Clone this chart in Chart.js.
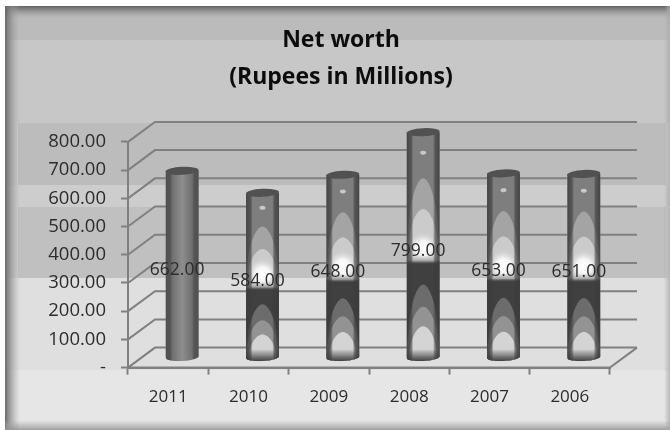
<!DOCTYPE html>
<html>
<head>
<meta charset="utf-8">
<title>Net worth</title>
<script src="https://cdn.jsdelivr.net/npm/chart.js@4"></script>
<style>
html, body { margin: 0; padding: 0; background: #fff; }
#wrap { width: 670px; height: 430px; }
#graph { filter: blur(0.45px); }
</style>
</head>
<body>
<div id="wrap"><canvas id="graph" width="670" height="430"></canvas></div>
<script>
var categories = ['2011', '2010', '2009', '2008', '2007', '2006'];
var netWorth = [662, 584, 648, 799, 653, 651];
var tickValues = [0, 100, 200, 300, 400, 500, 600, 700, 800];
var titleLines = ['Net worth', '(Rupees in Millions)'];

var FONT = '"Open Sans", sans-serif';
// depth of the fake 3d box, and where the bars sit inside it
var depthX = 27, depthY = 20;
var barShiftX = 14, barShiftY = -10;

// background panels of the picture
function drawPanels(ctx) {
    ctx.fillStyle = '#cfcfcf';
    ctx.fillRect(5, 6, 665, 424);

    var bands = [
        [5, 6, 665, 34, '#bbbbbb'],
        [5, 40, 665, 83, '#c7c7c7'],
        [5, 123, 12, 62, '#c7c7c7'],
        [18, 123, 648, 62, '#bcbcbc'],
        [5, 185, 665, 22, '#cdcdcd'],
        [5, 207, 12, 71, '#cdcdcd'],
        [18, 207, 648, 71, '#c0c0c0'],
        [5, 278, 665, 92, '#dfdfdf'],
        [5, 370, 665, 60, '#e6e6e6']
    ];
    bands.forEach(function (b) {
        ctx.fillStyle = b[4];
        ctx.fillRect(b[0], b[1], b[2], b[3]);
    });

    // soft dark frame on top of the bands
    var g = ctx.createLinearGradient(0, 6, 0, 18);
    g.addColorStop(0, 'rgba(90,90,90,0.95)');
    g.addColorStop(1, 'rgba(150,150,150,0)');
    ctx.fillStyle = g;
    ctx.fillRect(5, 6, 665, 12);
    g = ctx.createLinearGradient(5, 0, 20, 0);
    g.addColorStop(0, 'rgba(100,100,100,0.95)');
    g.addColorStop(0.45, 'rgba(140,140,140,0.6)');
    g.addColorStop(1, 'rgba(170,170,170,0)');
    ctx.fillStyle = g;
    ctx.fillRect(5, 6, 15, 424);
    g = ctx.createLinearGradient(0, 420, 0, 430);
    g.addColorStop(0, 'rgba(170,170,170,0)');
    g.addColorStop(1, 'rgba(150,150,150,0.9)');
    ctx.fillStyle = g;
    ctx.fillRect(5, 420, 665, 10);
    g = ctx.createLinearGradient(664, 0, 670, 0);
    g.addColorStop(0, 'rgba(170,170,170,0)');
    g.addColorStop(1, 'rgba(170,170,170,0.8)');
    ctx.fillStyle = g;
    ctx.fillRect(664, 6, 6, 424);
}

// back wall lines and the left side wall
function drawBox(chart) {
    var ctx = chart.ctx, y = chart.scales.y, a = chart.chartArea;
    ctx.save();
    ctx.strokeStyle = '#808080';
    ctx.lineWidth = 2;
    tickValues.forEach(function (v) {
        var py = y.getPixelForValue(v);
        ctx.beginPath();
        ctx.moveTo(a.left, py);
        ctx.lineTo(a.left + depthX, py - depthY);
        ctx.lineTo(a.right + depthX, py - depthY);
        ctx.stroke();
    });
    // floor edge on the right
    var by = y.getPixelForValue(0);
    ctx.beginPath();
    ctx.moveTo(a.left, by);
    ctx.lineTo(a.right, by);
    ctx.lineTo(a.right + depthX, by - depthY);
    ctx.stroke();
    ctx.restore();
}

function parabola(ctx, cx, halfW, apex, foot, color) {
    var h = foot - apex;
    ctx.fillStyle = color;
    ctx.beginPath();
    ctx.moveTo(cx - halfW, foot);
    ctx.bezierCurveTo(cx - halfW, apex + h * 0.32, cx - halfW * 0.4, apex, cx, apex);
    ctx.bezierCurveTo(cx + halfW * 0.4, apex, cx + halfW, apex + h * 0.32, cx + halfW, foot);
    ctx.closePath();
    ctx.fill();
}

function capEllipse(ctx, cx, cy, rx, ry) {
    ctx.beginPath();
    ctx.ellipse(cx, cy, rx, ry, -0.05, 0, Math.PI * 2);
}

function cylinderPath(ctx, l, r, top, bottom, ry) {
    var cx = (l + r) / 2, rx = (r - l) / 2;
    ctx.beginPath();
    ctx.moveTo(l, top);
    ctx.lineTo(l, bottom);
    ctx.ellipse(cx, bottom, rx, ry, -0.05, Math.PI, 0, true);
    ctx.lineTo(r, top);
    ctx.closePath();
}

function shadeBar(ctx, el, plain) {
    var l = el.x - el.width / 2, r = el.x + el.width / 2, top = el.y, bottom = el.base;
    var cx = el.x, rx = el.width / 2, ry = 4, h = bottom - top;
    ctx.save();
    cylinderPath(ctx, l, r, top, bottom, ry);
    ctx.clip();
    if (plain) {
        var g = ctx.createLinearGradient(l, 0, r, 0);
        g.addColorStop(0, '#505050');
        g.addColorStop(0.14, '#555555');
        g.addColorStop(0.2, '#707070');
        g.addColorStop(0.5, '#8e8e8e');
        g.addColorStop(0.8, '#707070');
        g.addColorStop(0.86, '#555555');
        g.addColorStop(1, '#505050');
        ctx.fillStyle = g;
        ctx.fillRect(l, top - ry, r - l, h + ry * 2);
    } else {
        var split = bottom - h * 0.43, up = split - top, low = bottom - split;
        // upper part
        ctx.fillStyle = '#7e7e7e';
        ctx.fillRect(l, top, r - l, up);
        parabola(ctx, cx, rx, top + up * 0.36, split, '#a4a4a4');
        parabola(ctx, cx, rx * 0.95, top + up * 0.6, split, '#cbcbcb');
        var rg = ctx.createRadialGradient(cx, split - 12, 1, cx, split - 12, rx * 1.05);
        rg.addColorStop(0, '#ffffff');
        rg.addColorStop(0.4, '#f6f6f6');
        rg.addColorStop(1, 'rgba(205,205,205,0)');
        ctx.fillStyle = rg;
        ctx.fillRect(l, split - 32, r - l, 32);
        // small spot near the top
        ctx.fillStyle = '#c8c8c8';
        capEllipse(ctx, cx, top + up * 0.16, 3, 2);
        ctx.fill();
        // lower part
        ctx.fillStyle = '#404040';
        ctx.fillRect(l, split, r - l, low + ry);
        parabola(ctx, cx, rx, split + low * 0.25, bottom + ry, '#6c6c6c');
        parabola(ctx, cx, rx, split + low * 0.48, bottom + ry, '#939393');
        parabola(ctx, cx, rx * 0.85, split + low * 0.68, bottom + ry, '#d4d4d4');
        // lit band where the two parts meet
        var lip = ctx.createLinearGradient(0, split - 5, 0, split + 4);
        lip.addColorStop(0, 'rgba(190,190,190,0)');
        lip.addColorStop(0.6, '#a8a8a8');
        lip.addColorStop(1, 'rgba(70,70,70,0)');
        ctx.fillStyle = lip;
        ctx.fillRect(l, split - 5, r - l, 9);
        // dark foot
        var foot = ctx.createLinearGradient(0, bottom - 8, 0, bottom + ry);
        foot.addColorStop(0, 'rgba(60,60,60,0)');
        foot.addColorStop(1, '#404040');
        ctx.fillStyle = foot;
        ctx.fillRect(l, bottom - 8, r - l, 8 + ry);
        // dark sides
        var side = ctx.createLinearGradient(l, 0, r, 0);
        side.addColorStop(0, 'rgba(60,60,60,0.85)');
        side.addColorStop(0.14, 'rgba(60,60,60,0.6)');
        side.addColorStop(0.2, 'rgba(60,60,60,0)');
        side.addColorStop(0.8, 'rgba(60,60,60,0)');
        side.addColorStop(0.86, 'rgba(60,60,60,0.6)');
        side.addColorStop(1, 'rgba(60,60,60,0.85)');
        ctx.fillStyle = side;
        ctx.fillRect(l, top, r - l, h + ry);
    }
    ctx.restore();
    // top cap
    ctx.fillStyle = '#515151';
    capEllipse(ctx, cx, top, rx, ry);
    ctx.fill();
}

var boxPlugin = {
    id: 'box',
    beforeDraw: function (chart) {
        drawPanels(chart.ctx);
    },
    beforeDatasetsDraw: function (chart) {
        drawBox(chart);
        chart.ctx.save();
        chart.ctx.translate(barShiftX, barShiftY);
    },
    afterDatasetsDraw: function (chart) {
        var ctx = chart.ctx;
        var els = chart.getDatasetMeta(0).data;
        els.forEach(function (el, i) {
            shadeBar(ctx, el, i === 0);
        });
        ctx.restore();
        // value labels sit left of the bars' centres
        ctx.save();
        ctx.fillStyle = '#2c2c2c';
        ctx.font = '17.5px ' + FONT;
        ctx.textAlign = 'center';
        ctx.textBaseline = 'middle';
        els.forEach(function (el, i) {
            var mid = (el.y + el.base) / 2;
            ctx.fillText(netWorth[i].toFixed(2), el.x + 9, mid - 4);
        });
        ctx.restore();
    }
};

new Chart(document.getElementById('graph').getContext('2d'), {
    type: 'bar',
    plugins: [boxPlugin],
    data: {
        labels: categories,
        datasets: [{
            data: netWorth,
            backgroundColor: '#707070',
            borderWidth: 0,
            barPercentage: 0.41,
            categoryPercentage: 1,
            clip: false
        }]
    },
    options: {
        responsive: false,
        animation: false,
        // left padding keeps the title centred where the reference has it
        layout: { padding: { top: 0, right: 0, bottom: 11, left: 12 } },
        plugins: {
            legend: { display: false },
            tooltip: { enabled: false },
            title: {
                display: true,
                text: titleLines,
                color: '#0c0c0c',
                font: { family: FONT, size: 23, weight: 'bold', lineHeight: 1.65 },
                padding: { top: 21, bottom: 45 }
            }
        },
        scales: {
            x: {
                border: { color: '#808080', width: 2 },
                grid: { drawOnChartArea: false, tickLength: 7, tickColor: '#808080', tickWidth: 2 },
                ticks: { color: '#2c2c2c', font: { family: FONT, size: 17 }, padding: 12, maxRotation: 0 }
            },
            y: {
                min: 0,
                max: 800,
                afterBuildTicks: function (axis) {
                    axis.ticks = tickValues.map(function (v) { return { value: v }; });
                },
                afterFit: function (axis) { axis.width = 116; },
                border: { color: '#808080', width: 2 },
                grid: { drawOnChartArea: false, tickLength: 7, tickColor: '#808080', tickWidth: 2 },
                ticks: {
                    color: '#2c2c2c',
                    font: { family: FONT, size: 18.5 },
                    padding: 15,
                    callback: function (v) { return v === 0 ? '-' : v.toFixed(2); }
                }
            },
            // empty axis, only holds the room for the box depth on the right
            spacer: {
                position: 'right',
                afterFit: function (axis) { axis.width = 60; },
                border: { display: false },
                grid: { display: false },
                ticks: { display: false }
            }
        }
    }
});
</script>
</body>
</html>
